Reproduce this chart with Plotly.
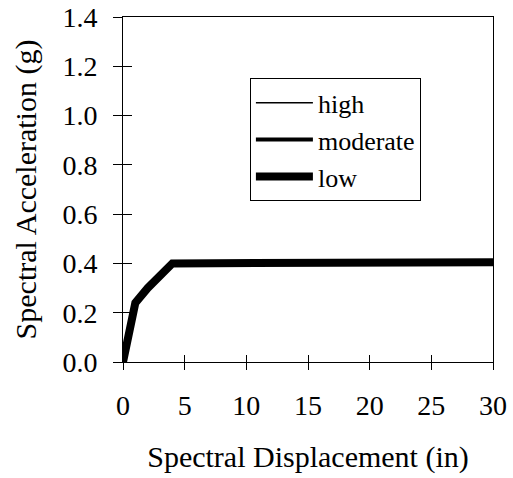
import plotly.graph_objects as go

# Data
disp_high = [0, 1, 2, 3, 4, 30]
acc_high = [0, 0.24, 0.30, 0.355, 0.40, 0.405]
disp_moderate = [0, 1, 2, 3, 4, 30]
acc_moderate = [0, 0.24, 0.30, 0.355, 0.40, 0.405]
disp_low = [0, 1, 2, 3, 4, 30]
acc_low = [0, 0.24, 0.30, 0.355, 0.40, 0.405]

x_ticks = [0, 5, 10, 15, 20, 25, 30]
y_ticks = [0.0, 0.2, 0.4, 0.6, 0.8, 1.0, 1.2, 1.4]

FONT = "Liberation Serif"

fig = go.Figure()
fig.add_trace(go.Scatter(x=disp_high, y=acc_high, mode="lines", name="high", legendgroup="a",
                         line=dict(color="black", width=1.5)))
fig.add_trace(go.Scatter(x=disp_moderate, y=acc_moderate, mode="lines", name="moderate",
                         legendgroup="b", line=dict(color="black", width=4)))
fig.add_trace(go.Scatter(x=disp_low, y=acc_low, mode="lines", name="low", legendgroup="c",
                         line=dict(color="black", width=8)))
# invisible trace on overlay axes (for inward tick marks)
fig.add_trace(go.Scatter(x=disp_low, y=acc_low, mode="lines", xaxis="x2", yaxis="y2",
                         line=dict(color="rgba(0,0,0,0)"), showlegend=False, hoverinfo="skip"))

axis_common = dict(showgrid=False, zeroline=False, linecolor="black", linewidth=1,
                   tickcolor="black", tickwidth=1, automargin=False)

fig.update_layout(
    width=513, height=478,
    margin=dict(l=123, r=20, t=17, b=116),
    paper_bgcolor="white", plot_bgcolor="white",
    font=dict(family=FONT, color="black", size=28),
    legend=dict(x=0.343, y=0.822, xanchor="left", yanchor="top",
                traceorder="grouped",
                bordercolor="black", borderwidth=1, bgcolor="white",
                font=dict(family=FONT, size=26), itemwidth=57,
                tracegroupgap=0),
    xaxis=dict(range=[0, 30], tickvals=x_ticks, ticktext=[str(v) for v in x_ticks],
               ticks="outside", ticklen=7, ticklabelstandoff=11, mirror=True,
               title=dict(text="Spectral Displacement (in)", font=dict(size=30), standoff=26),
               **axis_common),
    yaxis=dict(range=[0, 1.4], tickvals=y_ticks, ticktext=[f"{v:.1f}" for v in y_ticks],
               ticks="outside", ticklen=9, ticklabelstandoff=10, mirror=True,
               title=dict(text="Spectral Acceleration (g)", font=dict(size=30), standoff=16),
               **axis_common),
    xaxis2=dict(overlaying="x", range=[0, 30], tickvals=x_ticks, showticklabels=False,
                ticks="inside", ticklen=7, side="bottom", anchor="y2", showline=False,
                showgrid=False, zeroline=False, tickcolor="black", tickwidth=1,
                automargin=False),
    yaxis2=dict(overlaying="y", range=[0, 1.4], tickvals=y_ticks, showticklabels=False,
                ticks="inside", ticklen=9, side="left", anchor="x2", showline=False,
                showgrid=False, zeroline=False, tickcolor="black", tickwidth=1,
                automargin=False),
)

fig.write_html("out.html", config={"displayModeBar": False},
               post_script="document.body.style.margin='0';")
